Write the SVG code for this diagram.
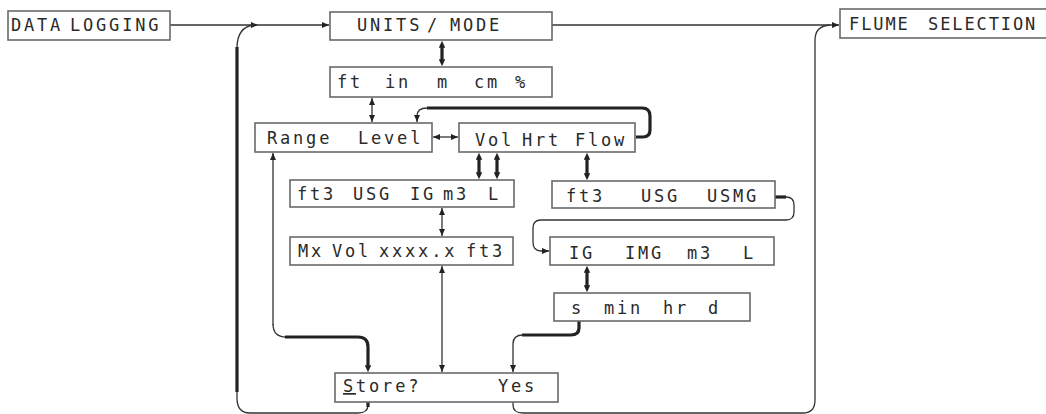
<svg xmlns="http://www.w3.org/2000/svg" width="1046" height="414" viewBox="0 0 1046 414">
<style>
.box{fill:#fff;stroke:#6a6a6a;stroke-width:1.6}
.t{font-family:"DejaVu Sans Mono","Liberation Mono",monospace;font-size:17px;fill:#2a2a2a;letter-spacing:2.8px}
.c{fill:none;stroke:#333;stroke-width:1.3}
.k{fill:none;stroke:#222;stroke-width:3.2}
</style>
<defs>
<marker id="a" viewBox="0 0 8 8" refX="8" refY="4" markerWidth="7" markerHeight="7" markerUnits="userSpaceOnUse" orient="auto-start-reverse"><path d="M0,0.6 L8,4 L0,7.4 z" fill="#222"/></marker>
<marker id="ak" viewBox="0 0 8 8" refX="2" refY="4" markerWidth="7" markerHeight="7" markerUnits="userSpaceOnUse" orient="auto-start-reverse"><path d="M0,0.3 L8,4 L0,7.7 z" fill="#222"/></marker>
</defs>
<g id="connectors">
<path class="c" d="M170,25 H258" marker-end="url(#a)"/>
<path class="c" d="M258,25 H329" marker-end="url(#a)"/>
<path class="c" d="M552,25 H839" marker-end="url(#a)"/>
<path class="c" d="M368,402 V405 Q368,413 358,413 H250 Q237,413 237,398 V48 Q237,27 254,25"/>
<path class="k" d="M237,392 V47"/>
<path class="k" d="M368,402 V407"/>
<path class="c" d="M513,402 V405 Q513,413 523,413 H803 Q815,413 815,400 V40 Q815,26 830,25"/>
<path class="k" d="M442,46 V61" marker-start="url(#ak)" marker-end="url(#ak)"/>
<path class="c" d="M372,98 V122" marker-start="url(#a)" marker-end="url(#a)"/>
<path class="c" d="M433,137 H458" marker-start="url(#a)" marker-end="url(#a)"/>
<path class="k" d="M636,137 H643 Q650,137 650,130 V116 Q650,108 642,108 H427"/>
<path class="c" d="M427,108 Q417,108 417,116 V122" marker-end="url(#a)"/>
<path class="k" d="M479,158 V174" marker-start="url(#ak)" marker-end="url(#ak)"/>
<path class="k" d="M497,158 V174" marker-start="url(#ak)" marker-end="url(#ak)"/>
<path class="c" d="M442,208 V236" marker-start="url(#a)" marker-end="url(#a)"/>
<path class="c" d="M442,266 V372" marker-start="url(#a)" marker-end="url(#a)"/>
<path class="c" d="M273,325 V153" marker-end="url(#a)"/>
<path class="c" d="M273,324 Q273,337 286,337"/>
<path class="k" d="M285,337 H358 Q368,337 368,347 V367" marker-end="url(#ak)"/>
<path class="k" d="M587,158 V175" marker-start="url(#ak)" marker-end="url(#ak)"/>
<path class="k" d="M775,197 H786"/>
<path class="c" d="M786,197 Q794,197 794,205 V212 Q794,220 786,220 H541 Q533,220 533,228 V242 Q533,251 541,251 H549" marker-end="url(#a)"/>
<path class="k" d="M587,271 V287" marker-start="url(#ak)" marker-end="url(#ak)"/>
<path class="k" d="M579,321 V328 Q579,335 571,335 H522"/>
<path class="c" d="M523,335 Q513,335 513,344 V372" marker-end="url(#a)"/>
</g>
<g id="data-logging"><rect class="box" x="8" y="11" width="162" height="29"/><text class="t" y="31"><tspan x="11">DATA</tspan> <tspan x="70">LOGGING</tspan></text></g>
<g id="units-mode"><rect class="box" x="330" y="12" width="222" height="28"/><text class="t" y="31"><tspan x="357">UNITS</tspan> <tspan x="427">/</tspan> <tspan x="450">MODE</tspan></text></g>
<g id="flume-selection"><rect class="box" x="840" y="9" width="212" height="29"/><text class="t" y="30" style="letter-spacing:1.9px"><tspan x="849">FLUME</tspan> <tspan x="928">SELECTION</tspan></text></g>
<g id="units"><rect class="box" x="330" y="67" width="222" height="30"/><text class="t" y="88"><tspan x="337">ft</tspan> <tspan x="385">in</tspan> <tspan x="437">m</tspan> <tspan x="474">cm</tspan> <tspan x="515">%</tspan></text></g>
<g id="range-level"><rect class="box" x="255" y="123" width="177" height="29"/><text class="t" y="144"><tspan x="267">Range</tspan> <tspan x="358">Level</tspan></text></g>
<g id="vol-hrt-flow"><rect class="box" x="459" y="123" width="176" height="29"/><text class="t" y="146"><tspan x="475">Vol</tspan> <tspan x="522">Hrt</tspan> <tspan x="575">Flow</tspan></text></g>
<g id="vol-units"><rect class="box" x="290" y="180" width="224" height="27"/><text class="t" y="200"><tspan x="297">ft3</tspan> <tspan x="353">USG</tspan> <tspan x="410">IG</tspan> <tspan x="443">m3</tspan> <tspan x="488">L</tspan></text></g>
<g id="max-vol"><rect class="box" x="290" y="237" width="223" height="28"/><text class="t" y="257"><tspan x="298">Mx</tspan> <tspan x="332">Vol</tspan> <tspan x="379">xxxx.x</tspan> <tspan x="466">ft3</tspan></text></g>
<g id="flow-units-1"><rect class="box" x="552" y="181" width="223" height="27"/><text class="t" y="202"><tspan x="566">ft3</tspan> <tspan x="641">USG</tspan> <tspan x="707">USMG</tspan></text></g>
<g id="flow-units-2"><rect class="box" x="550" y="237" width="224" height="28"/><text class="t" y="259"><tspan x="569">IG</tspan> <tspan x="625">IMG</tspan> <tspan x="687">m3</tspan> <tspan x="743">L</tspan></text></g>
<g id="time-units"><rect class="box" x="554" y="293" width="196" height="28"/><text class="t" y="314"><tspan x="571">s</tspan> <tspan x="604">min</tspan> <tspan x="663">hr</tspan> <tspan x="708">d</tspan></text></g>
<g id="store"><rect class="box" x="335" y="373" width="223" height="29"/><text class="t" y="392"><tspan x="343" text-decoration="underline">S</tspan><tspan>tore?</tspan> <tspan x="498">Yes</tspan></text></g>
</svg>
